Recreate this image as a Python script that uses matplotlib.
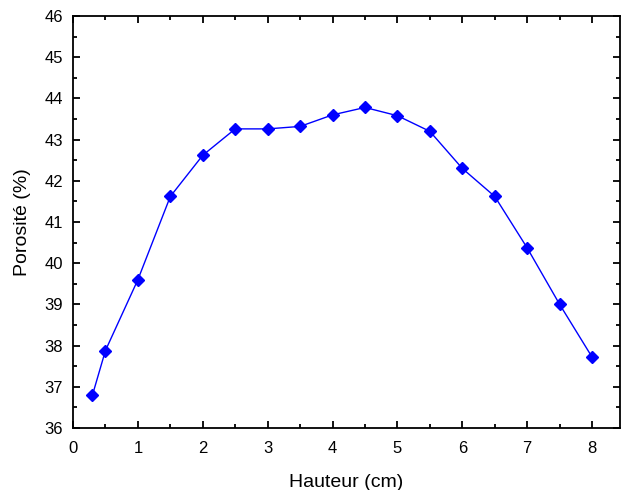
import matplotlib
matplotlib.use("Agg")
import matplotlib.pyplot as plt
from matplotlib.ticker import MultipleLocator

plt.rcParams['font.family'] = ['Liberation Sans', 'DejaVu Sans']

hauteur = [0.3, 0.5, 1, 1.5, 2, 2.5, 3, 3.5, 4, 4.5, 5, 5.5, 6, 6.5, 7, 7.5, 8]
porosite = [36.80, 37.88, 39.60, 41.62, 42.62, 43.26, 43.26, 43.32, 43.60, 43.78,
            43.58, 43.20, 42.30, 41.62, 40.37, 39.00, 37.72]

fig = plt.figure(figsize=(6.22, 4.90), dpi=100)
ax = fig.add_axes([73/622, 1-428/490, (620-73)/622, (428-16)/490])
ax.plot(hauteur, porosite, color='#0000ff', lw=1.0, marker='D', markersize=6.5,
        markerfacecolor='#0000ff', markeredgecolor='#0000ff')
ax.set_xlim(0, 8.43)
ax.set_ylim(36, 46)
ax.xaxis.set_major_locator(MultipleLocator(1))
ax.xaxis.set_minor_locator(MultipleLocator(0.5))
ax.yaxis.set_major_locator(MultipleLocator(1))
ax.yaxis.set_minor_locator(MultipleLocator(0.5))
ax.tick_params(which='both', direction='in', top=True, right=True, labelsize=12, width=1.3)
ax.tick_params(axis='x', which='major', length=5, pad=9)
ax.tick_params(axis='y', which='major', length=5, pad=7)
ax.tick_params(which='minor', length=3)
for s in ax.spines.values():
    s.set_linewidth(1.3)
ax.set_xlabel('Hauteur (cm)', fontsize=14, labelpad=13)
ax.set_ylabel('Porosité (%)', fontsize=14, labelpad=10)
fig.savefig('out.png', dpi=100)
